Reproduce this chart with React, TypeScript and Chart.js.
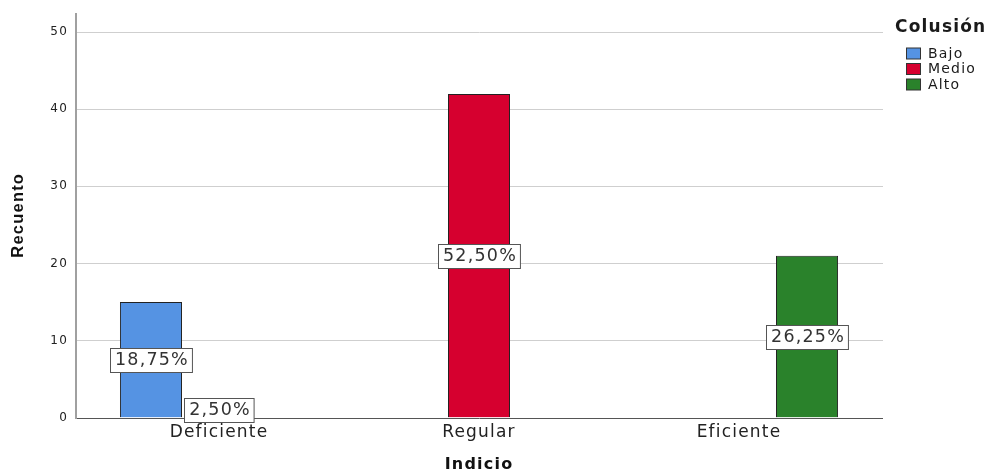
import React, { useEffect, useRef } from 'react';
import { Chart, registerables } from 'chart.js';

Chart.register(...registerables);

// ---- data ----
const categories = ['Deficiente', 'Regular', 'Eficiente'];
const seriesNames = ['Bajo', 'Medio', 'Alto'];
const bajo: (number | null)[] = [15, null, null];
const medio: (number | null)[] = [2, 42, null];
const alto: (number | null)[] = [null, null, 21];
const yTicks = [0, 10, 20, 30, 40, 50];
const seriesColors = ['#5593e3', '#d6002f', '#2a822b'];
const legendTitle = 'Colusión';
const xTitle = 'Indicio';
const yTitle = 'Recuento';

const allSeries = [bajo, medio, alto];
const total = allSeries.flat().reduce((a: number, v) => a + (v ?? 0), 0);
const pctLabel = (v: number) => ((v / total) * 100).toFixed(2).replace('.', ',') + '%';

const SPACING = '1.2px';

const customPlugin = {
  id: 'spssStyle',
  beforeUpdate(chart: any) {
    chart.ctx.letterSpacing = SPACING;
  },
  beforeDraw(chart: any) {
    chart.ctx.letterSpacing = SPACING;
  },
  beforeDatasetsDraw(chart: any) {
    const { ctx, chartArea, scales } = chart;
    const y = scales.y;
    const L = chartArea.left - 13;
    const R = chartArea.right + 14;
    ctx.save();
    ctx.lineWidth = 1;
    ctx.strokeStyle = '#cfcfcf';
    y.ticks.forEach((t: any) => {
      if (t.value === 0) return;
      const py = Math.round(y.getPixelForValue(t.value)) + 0.5;
      ctx.beginPath();
      ctx.moveTo(L, py);
      ctx.lineTo(R, py);
      ctx.stroke();
    });
    ctx.restore();
  },
  afterDatasetsDraw(chart: any) {
    const { ctx, chartArea, scales } = chart;
    const y = scales.y;
    const L = chartArea.left - 13;
    const R = chartArea.right + 14;
    const py0 = Math.round(y.getPixelForValue(0)) + 0.5;
    ctx.save();
    // x baseline
    ctx.strokeStyle = '#555';
    ctx.lineWidth = 1;
    ctx.beginPath();
    ctx.moveTo(L, py0);
    ctx.lineTo(R, py0);
    ctx.stroke();
    // y axis line
    ctx.strokeStyle = '#a0a0a0';
    ctx.lineWidth = 2;
    ctx.beginPath();
    ctx.moveTo(L, chartArea.top);
    ctx.lineTo(L, py0 + 0.5);
    ctx.stroke();

    // data labels
    ctx.letterSpacing = SPACING;
    ctx.font = '17.5px "DejaVu Sans"';
    ctx.textAlign = 'center';
    ctx.textBaseline = 'middle';
    chart.data.datasets.forEach((ds: any, i: number) => {
      const meta = chart.getDatasetMeta(i);
      ds.data.forEach((v: number | null, j: number) => {
        if (v === null || v === undefined) return;
        const bar: any = meta.data[j];
        const cx = bar.x;
        const cy = (bar.y + bar.base) / 2;
        const text = pctLabel(v);
        const w = ctx.measureText(text).width + 8;
        const h = 24;
        const bx = Math.round(cx - w / 2) + 0.5;
        const by = Math.round(cy - h / 2) + 0.5;
        ctx.fillStyle = '#ffffff';
        ctx.fillRect(bx, by, w, h);
        ctx.strokeStyle = '#555';
        ctx.lineWidth = 1;
        ctx.strokeRect(bx, by, w, h);
        ctx.fillStyle = '#333';
        ctx.fillText(text, cx + 1, cy + 1);
      });
    });
    ctx.restore();
  },
  afterDraw(chart: any) {
    const { ctx, chartArea } = chart;
    ctx.save();
    ctx.letterSpacing = SPACING;
    const lx = chartArea.right + 26;
    ctx.fillStyle = '#1a1a1a';
    ctx.textAlign = 'left';
    ctx.textBaseline = 'middle';
    ctx.font = 'bold 17px "DejaVu Sans"';
    ctx.fillText(legendTitle, lx, 28);
    ctx.font = '14px "DejaVu Sans"';
    chart.data.datasets.forEach((ds: any, i: number) => {
      const cy = 53.5 + i * 15.5;
      ctx.fillStyle = ds.backgroundColor;
      ctx.fillRect(lx + 11.5, cy - 5.5, 14, 11);
      ctx.strokeStyle = '#333';
      ctx.lineWidth = 1;
      ctx.strokeRect(lx + 11.5, cy - 5.5, 14, 11);
      ctx.fillStyle = '#1a1a1a';
      ctx.fillText(ds.label, lx + 33, cy + 0.5);
    });
    ctx.restore();
  },
};

export default function App() {
  const canvasRef = useRef<HTMLCanvasElement | null>(null);

  useEffect(() => {
    const canvas = canvasRef.current;
    if (!canvas) return;
    const chart = new Chart(canvas, {
      type: 'bar',
      data: {
        labels: categories,
        datasets: allSeries.map((d, i) => ({
          label: seriesNames[i],
          data: d,
          backgroundColor: seriesColors[i],
          borderColor: '#222',
          borderWidth: 1,
          categoryPercentage: 0.785,
          barPercentage: 0.912,
        })),
      },
      options: {
        responsive: false,
        animation: false,
        devicePixelRatio: 1,
        layout: { padding: { top: 13, right: 121, left: 0, bottom: 0 } },
        plugins: {
          legend: { display: false },
          tooltip: { enabled: false },
        },
        scales: {
          x: {
            grid: { display: false, drawTicks: false },
            border: { display: false },
            ticks: {
              color: '#222',
              font: { family: 'DejaVu Sans', size: 17 },
              padding: 5,
              maxRotation: 0,
              autoSkip: false,
            },
            title: {
              display: true,
              text: xTitle,
              color: '#111',
              font: { family: 'DejaVu Sans', size: 16, weight: 'bold', lineHeight: 0.875 },
              padding: 0,
            },
            afterFit: (s: any) => {
              s.height = 54.5;
              s.paddingLeft = 0;
              s.paddingRight = 0;
            },
          },
          y: {
            min: 0,
            max: 52.5,
            grid: { display: false, drawTicks: false },
            border: { display: false },
            ticks: {
              color: '#222',
              font: { family: 'DejaVu Sans', size: 12 },
              padding: 21,
            },
            afterBuildTicks: (s: any) => {
              s.ticks = yTicks.map((v) => ({ value: v }));
            },
            title: {
              display: true,
              text: yTitle,
              color: '#111',
              font: { family: 'Liberation Sans', size: 16.5, weight: 'bold', lineHeight: 1.2 },
              padding: { top: 9, bottom: 0 },
            },
            afterFit: (s: any) => {
              s.width = 89;
              s.paddingTop = 0;
              s.paddingBottom = 0;
            },
          },
        },
      } as any,
      plugins: [customPlugin],
    });
    return () => chart.destroy();
  }, []);

  return (
    <div style={{ position: 'fixed', left: 0, top: 0, width: 990, height: 472, background: '#fff' }}>
      <canvas ref={canvasRef} width={990} height={472} style={{ display: 'block' }} />
    </div>
  );
}
